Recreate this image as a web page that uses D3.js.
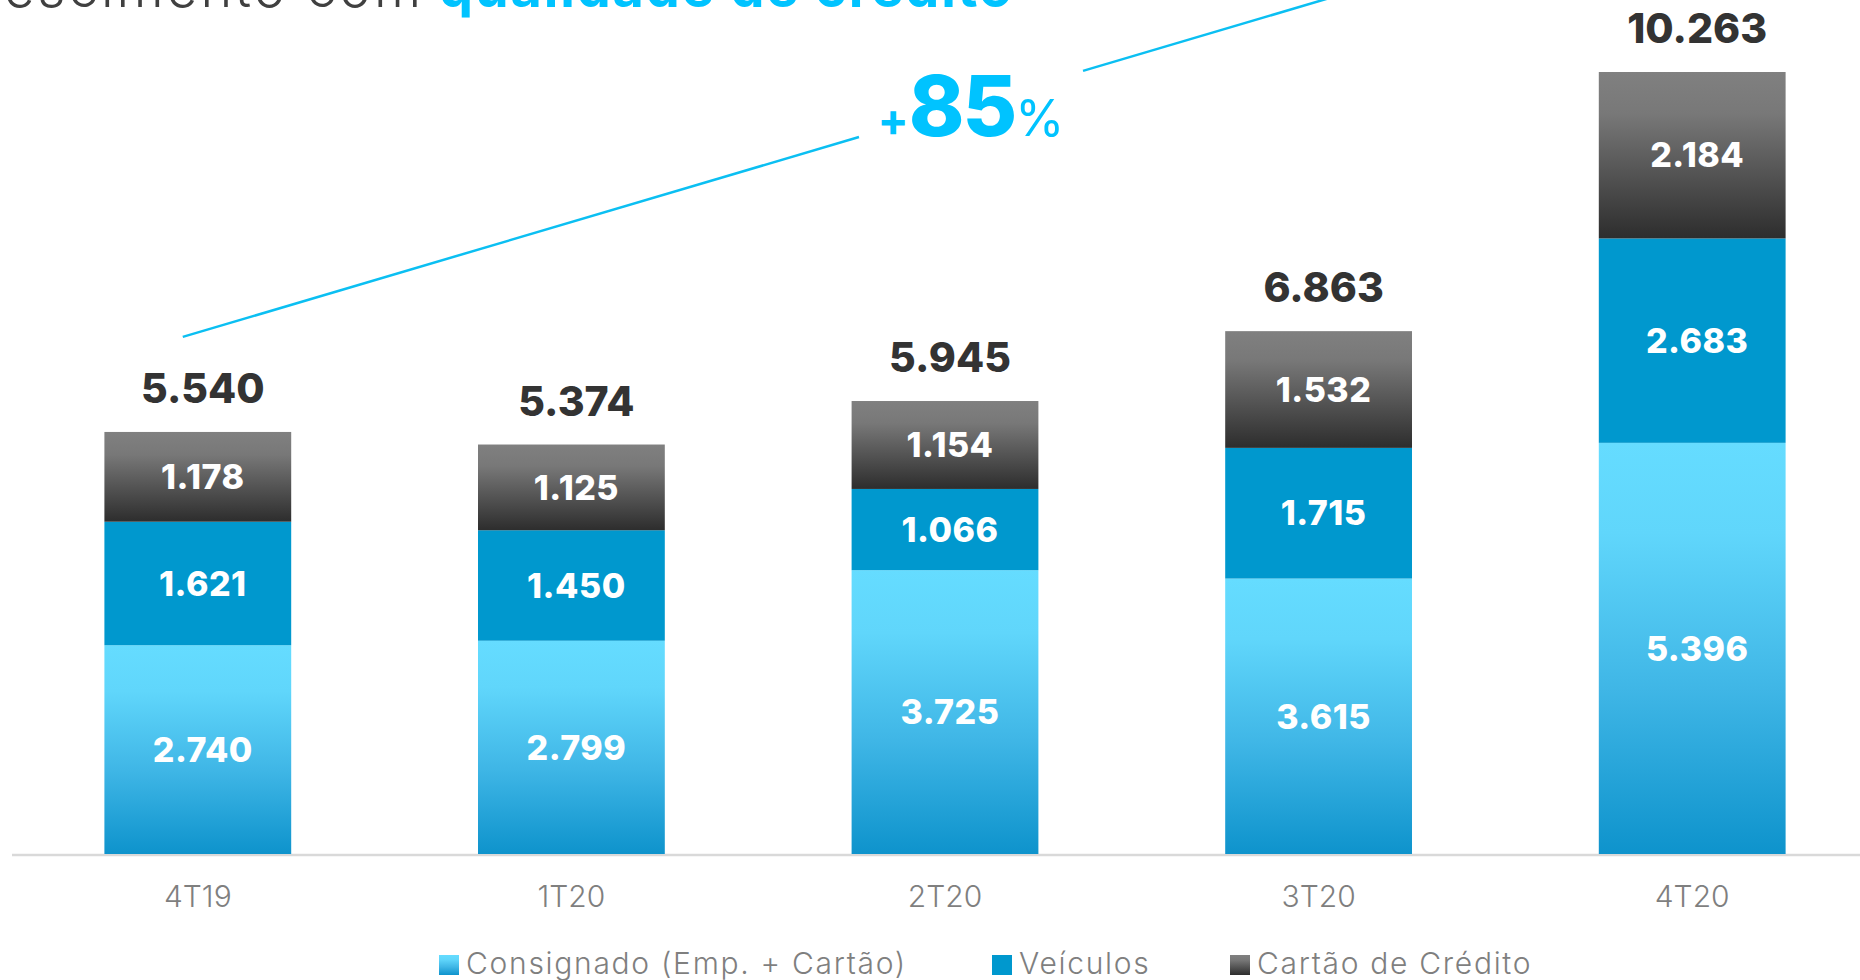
<!DOCTYPE html>
<html>
<head>
<meta charset="utf-8">
<script src="https://cdn.jsdelivr.net/npm/d3@7/dist/d3.min.js"></script>
<style>
  body { margin: 0; background: #fff; }
  svg { display: block; font-family: Inter, 'Open Sans', sans-serif; }
  .total { fill: #333; font-weight: 800; font-size: 41px; text-anchor: middle; }
  .seg { fill: #fff; font-weight: 800; font-size: 34px; text-anchor: middle; letter-spacing: 0.5px; }
  .cat { fill: #7f7f7f; font-weight: 300; font-size: 30px; text-anchor: middle; }
  .legend text { fill: #7f7f7f; font-weight: 300; font-size: 30px; letter-spacing: 1.7px; }
</style>
</head>
<body>
<svg id="chart"></svg>
<script>
var width = 1860, height = 980;

// data (R$ milhões)
var quarters = ['4T19', '1T20', '2T20', '3T20', '4T20'];
var consignado = [2740, 2799, 3725, 3615, 5396];
var veiculos = [1621, 1450, 1066, 1715, 2683];
var cartao = [1178, 1125, 1154, 1532, 2184];
var totals = [5540, 5374, 5945, 6863, 10263];
var seriesNames = ['Consignado (Emp. + Cartão)', 'Veículos', 'Cartão de Crédito'];

var rows = quarters.map(function(q, i) {
  return {q: q, consignado: consignado[i], veiculos: veiculos[i], cartao: cartao[i]};
});
var keys = ['consignado', 'veiculos', 'cartao'];
var fills = {consignado: 'url(#gConsig)', veiculos: '#0098ce', cartao: 'url(#gCartao)'};

var br = d3.formatLocale({decimal: ',', thousands: '.', grouping: [3], currency: ['R$', '']});
var fmt = br.format(',d');

var svg = d3.select('#chart')
  .attr('width', width)
  .attr('height', height);

var defs = svg.append('defs');
function grad(id, stops) {
  var lg = defs.append('linearGradient')
    .attr('id', id)
    .attr('x1', 0).attr('y1', 0).attr('x2', 0).attr('y2', 1);
  stops.forEach(function(s) {
    lg.append('stop').attr('offset', s[0]).attr('stop-color', s[1]);
  });
}
grad('gConsig', [[0, '#65dcff'], [0.22, '#60d6fb'], [0.6, '#3fb6e6'], [1, '#0e93cc']]);
grad('gCartao', [[0, '#808080'], [0.25, '#787878'], [1, '#2d2d2d']]);

var x = d3.scaleBand()
  .domain(quarters)
  .range([11, 1879])
  .paddingInner(0.5)
  .paddingOuter(0.25);

var y = d3.scaleLinear()
  .domain([0, 10263])
  .range([854, 72]);

var stack = d3.stack().keys(keys)(rows);

// title (cropped at the top of the slide)
svg.append('text')
  .attr('x', -60)
  .attr('y', 7)
  .attr('textLength', 481)
  .style('font-size', '54px')
  .style('fill', '#404040')
  .style('font-weight', 300)
  .text('Crescimento com');
svg.append('text')
  .attr('x', 439)
  .attr('y', 7)
  .attr('textLength', 573)
  .style('font-size', '54px')
  .style('fill', '#00c3ff')
  .style('font-weight', 700)
  .text('qualidade de crédito');

// baseline
svg.append('line')
  .attr('x1', 12)
  .attr('x2', width)
  .attr('y1', y(0) + 1)
  .attr('y2', y(0) + 1)
  .style('stroke', '#d9d9d9')
  .style('stroke-width', 2.5);

var layers = svg.selectAll('.layer')
  .data(stack)
  .enter()
  .append('g')
  .attr('class', 'layer')
  .style('fill', function(d) { return fills[d.key]; });

layers.selectAll('rect')
  .data(function(d) { return d; })
  .enter()
  .append('rect')
  .attr('x', function(d) { return x(d.data.q); })
  .attr('width', x.bandwidth())
  .attr('y', function(d) { return y(d[1]); })
  .attr('height', function(d) { return y(d[0]) - y(d[1]); });

layers.selectAll('text')
  .data(function(d) { return d; })
  .enter()
  .append('text')
  .attr('class', 'seg')
  .attr('x', function(d) { return x(d.data.q) + x.bandwidth() / 2 + 5; })
  .attr('y', function(d) { return (y(d[0]) + y(d[1])) / 2; })
  .attr('dy', '0.36em')
  .text(function(d) { return fmt(d[1] - d[0]); });

svg.selectAll('.total')
  .data(quarters)
  .enter()
  .append('text')
  .attr('class', 'total')
  .attr('x', function(d) { return x(d) + x.bandwidth() / 2 + 5; })
  .attr('y', function(d, i) { return y(d3.sum(keys, function(k) { return rows[i][k]; })) - 29; })
  .text(function(d, i) { return fmt(totals[i]); });

svg.selectAll('.cat')
  .data(quarters)
  .enter()
  .append('text')
  .attr('class', 'cat')
  .attr('x', function(d) { return x(d) + x.bandwidth() / 2; })
  .attr('y', 907)
  .text(function(d) { return d; });

// growth annotation
var growth = Math.round((totals[4] / totals[0] - 1) * 100);
var p0 = [x(quarters[0]) + x.bandwidth() / 2 - 15, y(totals[0]) - 95];
var slope = -0.2955;
var gapC = x(quarters[2]) + x.bandwidth() / 2 + 26;
function lineY(px) { return p0[1] + slope * (px - p0[0]); }
[[p0[0], gapC - 112], [gapC + 112, gapC + 420]].forEach(function(s) {
  svg.append('line')
    .attr('x1', s[0]).attr('y1', lineY(s[0]))
    .attr('x2', s[1]).attr('y2', lineY(s[1]))
    .style('stroke', '#0bbff2')
    .style('stroke-width', 2.5);
});
var gl = svg.append('text')
  .attr('x', gapC)
  .attr('y', 136)
  .style('text-anchor', 'middle')
  .style('fill', '#00c3ff');
gl.append('tspan').style('font-size', '46px').style('font-weight', 700).text('+');
gl.append('tspan').style('font-size', '84px').style('font-weight', 800).attr('letter-spacing', -2).text(growth);
gl.append('tspan').style('font-size', '50px').style('font-weight', 400).text('%');

// legend
var legendX = [439, 992, 1230];
var legend = svg.append('g').attr('class', 'legend');
keys.forEach(function(k, i) {
  legend.append('rect')
    .attr('x', legendX[i])
    .attr('y', 955)
    .attr('width', 20)
    .attr('height', 20)
    .style('fill', fills[k]);
  legend.append('text')
    .attr('x', legendX[i] + 27)
    .attr('y', 974)
    .text(seriesNames[i]);
});
</script>
</body>
</html>
